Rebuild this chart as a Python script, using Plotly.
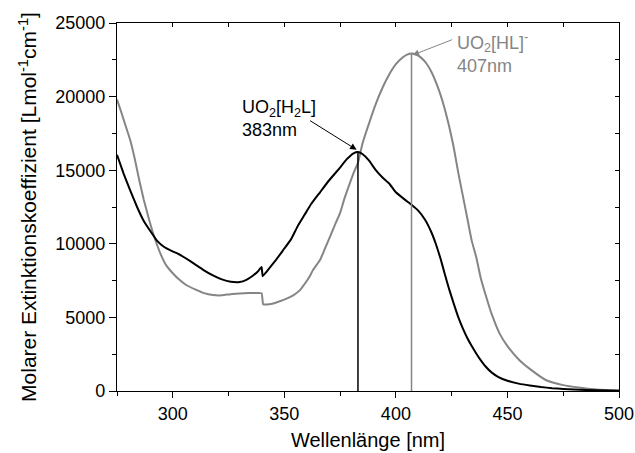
import plotly.graph_objects as go

# UO2[H2L] spectrum (black)
wl_h2l = [275, 278, 281, 284, 287, 290, 293, 296, 299, 302, 306, 310, 314, 318, 322, 326, 330,
          333, 336, 338, 339.8, 340.3, 342, 346, 350, 353, 356, 359, 362, 366, 370, 374, 378,
          381, 383, 385, 388, 391, 394, 397, 400, 404, 407, 410, 413, 416, 418, 420, 422, 424,
          426, 428, 430, 432, 434, 436, 438, 440, 443, 446, 450, 455, 460, 465, 470, 475, 480,
          490, 500]
eps_h2l = [16050, 14750, 13600, 12500, 11550, 10850, 10200, 9800, 9550, 9350, 9000, 8600, 8200,
           7850, 7580, 7420, 7400, 7550, 7850, 8100, 8420, 7800, 8100, 8850, 9680, 10300, 11200,
           11950, 12700, 13500, 14300, 15000, 15750, 16150, 16240, 16100, 15650, 15000, 14500,
           14100, 13500, 13000, 12650, 12250, 11650, 10750, 9950, 9000, 7900, 6850, 5900, 5000,
           4250, 3600, 3050, 2550, 2100, 1700, 1250, 950, 700, 500, 370, 270, 190, 140, 100,
           50, 20]

# UO2[HL]- spectrum (gray)
wl_hl = [275, 277, 279, 281, 283, 285, 287, 289, 291, 293, 295, 297, 300, 303, 306, 310, 314, 318,
         322, 326, 330, 334, 337, 339.8, 340.5, 342, 345, 348, 351, 354, 357, 359, 361, 363,
         366, 368, 370.4, 373, 375, 377, 379.3, 381, 383, 385, 388, 391, 394, 397, 400, 403,
         405, 407, 409, 411, 413.7, 416, 419.6, 422, 425.6, 428, 431.6, 434, 436, 438, 440.5,
         443, 446.5, 450, 455.4, 460, 467.4, 475, 482, 490, 500]
eps_hl = [19800, 18900, 17950, 17000, 15750, 14300, 13000, 11850, 10800, 9900, 9150, 8550, 8000,
          7550, 7200, 6900, 6650, 6520, 6500, 6580, 6620, 6650, 6650, 6640, 5900, 5880, 5950, 6100,
          6280, 6500, 6850, 7250, 7700, 8250, 8900, 9600, 10460, 11400, 12100, 13100, 14090,
          14800, 15500, 16800, 18200, 19500, 20600, 21500, 22200, 22650, 22850, 22920, 22860,
          22680, 22250, 21650, 20300, 19100, 16800, 14800, 12050, 10200, 9100, 7700, 6390,
          5200, 3900, 3050, 2090, 1500, 730, 400, 230, 100, 30]

x_ticks = [300, 350, 400, 450, 500]
y_ticks = [0, 5000, 10000, 15000, 20000, 25000]
y_ticklabels = ["0", "5000", "10000", "15000", "20000", "25000"]

peak_h2l = (383, 16240)
peak_hl = (407, 22920)

BLACK = "#000000"
GRAY = "#858585"
FONT = "Liberation Sans, Arial, sans-serif"

fig = go.Figure()
fig.add_trace(go.Scatter(x=wl_hl, y=eps_hl, mode="lines", line_shape="spline",
                         line=dict(color=GRAY, width=2, smoothing=0.4), showlegend=False))
fig.add_trace(go.Scatter(x=wl_h2l, y=eps_h2l, mode="lines", line_shape="spline",
                         line=dict(color=BLACK, width=2, smoothing=0.3), showlegend=False))
fig.add_trace(go.Scatter(x=[peak_h2l[0], peak_h2l[0]], y=[0, peak_h2l[1]], mode="lines",
                         line=dict(color=BLACK, width=1.5), showlegend=False))
fig.add_trace(go.Scatter(x=[peak_hl[0], peak_hl[0]], y=[0, peak_hl[1]], mode="lines",
                         line=dict(color=GRAY, width=1.5), showlegend=False))
# invisible trace for mirrored axes
fig.add_trace(go.Scatter(x=[275], y=[0], xaxis="x2", yaxis="y2", mode="markers",
                         marker=dict(opacity=0), showlegend=False, hoverinfo="skip"))

fig.add_annotation(x=peak_h2l[0] - 0.6, y=peak_h2l[1] + 150, xref="x", yref="y",
                   ax=-48, ay=-30, showarrow=True, arrowhead=2, arrowsize=1.3, arrowwidth=1,
                   arrowcolor=BLACK, text="")
fig.add_annotation(x=330, y=18500, xref="x", yref="y", xanchor="left", yanchor="middle",
                   showarrow=False, align="left",
                   text="UO<sub>2</sub>[H<sub>2</sub>L]<br>383nm",
                   font=dict(family=FONT, size=18, color=BLACK))
fig.add_annotation(x=peak_hl[0] + 0.5, y=peak_hl[1] - 100, xref="x", yref="y",
                   ax=41, ay=-16, showarrow=True, arrowhead=2, arrowsize=1.3, arrowwidth=1,
                   arrowcolor=GRAY, text="")
fig.add_annotation(x=426.5, y=22950, xref="x", yref="y", xanchor="left", yanchor="middle",
                   showarrow=False, align="left",
                   text="UO<sub>2</sub>[HL]<sup>-</sup><br>407nm",
                   font=dict(family=FONT, size=18, color=GRAY))

axis_common = dict(showgrid=False, zeroline=False, showline=True, linecolor=BLACK,
                   linewidth=1.3, tickcolor=BLACK, tickwidth=1.3, automargin=False)

fig.update_layout(
    width=635, height=453,
    margin=dict(l=117, r=16, t=23, b=62),
    paper_bgcolor="white", plot_bgcolor="white",
    font=dict(family=FONT, size=18, color=BLACK),
    xaxis=dict(range=[275, 500], tickmode="array", tickvals=x_ticks,
               ticktext=[str(v) for v in x_ticks],
               ticks="outside", ticklen=6,
               minor=dict(tickvals=[275, 325, 375, 425, 475], ticks="outside", ticklen=4,
                          tickcolor=BLACK, tickwidth=1.3),
               title=dict(text="Wellenlänge [nm]", font=dict(size=20), standoff=10),
               tickfont=dict(size=18), **axis_common),
    yaxis=dict(range=[0, 25000], tickmode="array", tickvals=y_ticks, ticktext=y_ticklabels,
               ticks="outside", ticklen=7,
               minor=dict(dtick=2500, ticks="outside", ticklen=4, tickcolor=BLACK, tickwidth=1.3),
               title=dict(text="Molarer Extinktionskoeffizient [Lmol<sup>-1</sup>cm<sup>-1</sup>]",
                          font=dict(size=21), standoff=12),
               tickfont=dict(size=18), **axis_common),
    xaxis2=dict(range=[275, 500], overlaying="x", side="top", anchor="y2",
                tickmode="linear", tick0=275, dtick=25, ticks="inside", ticklen=4,
                showticklabels=False, **axis_common),
    yaxis2=dict(range=[0, 25000], overlaying="y", side="right", anchor="x2",
                tickmode="linear", tick0=0, dtick=2500, ticks="inside", ticklen=4,
                showticklabels=False, **axis_common),
)

fig.write_html("out.html", config={"displayModeBar": False},
               post_script="document.body.style.margin='0';document.body.style.overflow='hidden';")
